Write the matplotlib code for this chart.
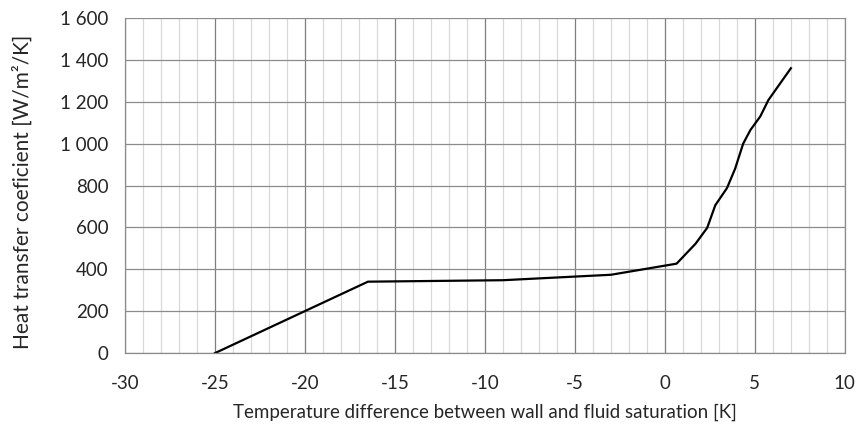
import matplotlib
matplotlib.use("Agg")
import matplotlib.pyplot as plt
from matplotlib.ticker import MultipleLocator, FuncFormatter

# Curve
delta_t = [-25, -16.5, -9, -3, 0.65, 1.7, 2.35, 2.8, 3.45, 3.9, 4.35, 4.75, 5.3, 5.75, 6.3, 7.0]
htc = [0, 341, 348, 374, 427, 522, 598, 706, 788, 880, 1000, 1065, 1130, 1208, 1275, 1360]

x_ticks = [-30, -25, -20, -15, -10, -5, 0, 5, 10]
y_ticks = [0, 200, 400, 600, 800, 1000, 1200, 1400, 1600]

plt.rcParams["font.family"] = ["Lato", "DejaVu Sans"]
plt.rcParams["axes.unicode_minus"] = False

fig = plt.figure(figsize=(8.56, 4.28), dpi=100)
ax = fig.add_axes([0.146, 0.175, 0.841, 0.783])

ax.plot(delta_t, htc, color="black", linewidth=1.6, solid_joinstyle="round")

ax.set_xlim(-30, 10)
ax.set_ylim(0, 1600)
ax.set_xticks(x_ticks)
ax.set_yticks(y_ticks)
ax.xaxis.set_minor_locator(MultipleLocator(1))
ax.yaxis.set_major_formatter(FuncFormatter(lambda v, p: f"{int(v):,}".replace(",", " ")))

ax.grid(True, which="major", axis="x", color="#7f7f7f", linewidth=0.9)
ax.grid(True, which="minor", axis="x", color="#d9d9d9", linewidth=0.9)
ax.grid(True, which="major", axis="y", color="#8c8c8c", linewidth=0.9)
ax.set_axisbelow(True)

ax.tick_params(which="both", length=0, labelsize=13.5, colors="#262626")
ax.tick_params(axis="x", pad=16)
ax.tick_params(axis="y", pad=12)
for side in ["left", "bottom", "right", "top"]:
    ax.spines[side].set_color("#8c8c8c")
    ax.spines[side].set_linewidth(0.9)
ax.spines["top"].set_visible(False)

ax.set_xlabel("Temperature difference between wall and fluid saturation [K]", fontsize=13.5, color="#262626", labelpad=8)
ax.set_ylabel("Heat transfer coeficient [W/m²/K]", fontsize=15, color="#262626", labelpad=22)
ax.yaxis.set_label_coords(-0.128, 0.48)

fig.savefig("out.png", dpi=100)
